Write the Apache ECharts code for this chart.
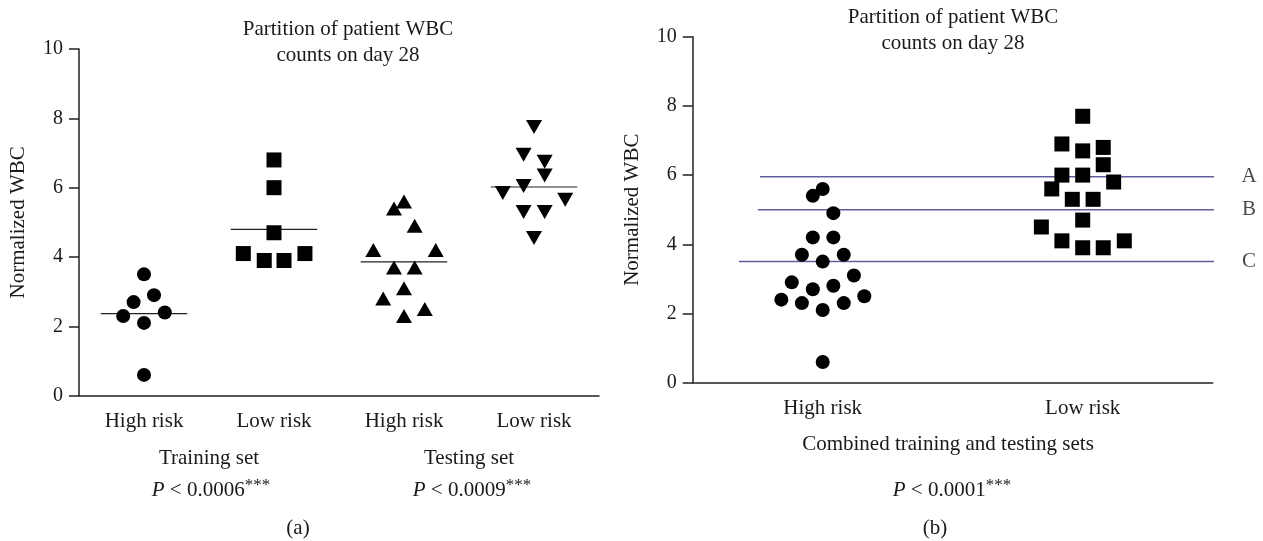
<!DOCTYPE html>
<html>
<head>
<meta charset="utf-8">
<title>Partition of patient WBC counts on day 28</title>
<script src="https://cdn.jsdelivr.net/npm/echarts@6/dist/echarts.min.js"></script>
<style>
  html, body { margin: 0; padding: 0; background: #fff; }
  #chart { width: 1263px; height: 541px; }
</style>
</head>
<body>
<div id="chart"></div>
<script>
// panel (a): training / testing sets
var leftCategories = ['High risk', 'Low risk', 'High risk', 'Low risk'];
var trainHighY  = [3.5, 2.9, 2.7, 2.3, 2.4, 2.1, 0.6];
var trainHighDx = [0, 0.077, -0.08, -0.16, 0.16, 0, 0];
var trainLowY   = [6.8, 6.0, 4.7, 4.1, 3.9, 3.9, 4.1];
var trainLowDx  = [0, 0, 0, -0.236, -0.075, 0.077, 0.238];
var testHighY   = [5.6, 5.4, 4.9, 4.2, 4.2, 3.7, 3.7, 3.1, 2.8, 2.5, 2.3];
var testHighDx  = [0, -0.077, 0.082, -0.236, 0.244, -0.077, 0.082, 0, -0.16, 0.16, 0];
var testLowY    = [7.75, 6.95, 6.75, 6.35, 6.05, 5.85, 5.65, 5.3, 5.3, 4.55];
var testLowDx   = [0, -0.08, 0.082, 0.082, -0.08, -0.24, 0.24, -0.08, 0.082, 0];
var leftMeans   = [2.37, 4.8, 3.86, 6.02];

// panel (b): combined sets
var rightCategories = ['High risk', 'Low risk'];
var combHighY  = [5.6, 5.4, 4.9, 4.2, 4.2, 3.7, 3.7, 3.5, 3.1, 2.9, 2.7, 2.8, 2.5, 2.4, 2.3, 2.3, 2.1, 0.6];
var combHighDx = [0, -0.038, 0.041, -0.038, 0.041, -0.08, 0.081, 0, 0.12, -0.119, -0.038, 0.041, 0.16, -0.159, -0.08, 0.081, 0, 0];
var combLowY   = [7.7, 6.9, 6.7, 6.8, 6.3, 6.0, 6.0, 5.8, 5.6, 5.3, 5.3, 4.7, 4.5, 4.1, 4.1, 3.9, 3.9];
var combLowDx  = [0, -0.08, 0, 0.079, 0.079, -0.08, 0, 0.119, -0.119, -0.04, 0.04, 0, -0.159, -0.08, 0.16, 0, 0.079];
var cutNames   = ['A', 'B', 'C'];
var cutValues  = [5.95, 5.0, 3.5];
var cutFrom    = [-0.241, -0.249, -0.322];
var cutTo      = [1.554, 1.578, 1.506];

var FONT = 'Liberation Serif';
var INK = '#1a1a1a';

function pts(center, ys, dxs) {
  return ys.map(function (y, i) { return [center + dxs[i], y]; });
}

function dots(xIdx, yIdx, data, symbol, size, rotate) {
  return {
    type: 'scatter', xAxisIndex: xIdx, yAxisIndex: yIdx,
    symbol: symbol, symbolSize: size, symbolRotate: rotate || 0,
    itemStyle: { color: '#000', opacity: 1 }, data: data, silent: true, z: 3
  };
}

var series = [
  dots(1, 0, pts(0, trainHighY, trainHighDx), 'circle', 14),
  dots(1, 0, pts(1, trainLowY, trainLowDx), 'rect', 15),
  dots(1, 0, pts(2, testHighY, testHighDx), 'triangle', [16, 14]),
  dots(1, 0, pts(3, testLowY, testLowDx), 'triangle', [16, 14], 180),
  dots(3, 1, pts(0, combHighY, combHighDx), 'circle', 14),
  dots(3, 1, pts(1, combLowY, combLowDx), 'rect', 15)
];

leftMeans.forEach(function (m, i) {
  series.push({
    type: 'line', xAxisIndex: 1, yAxisIndex: 0, symbol: 'none', silent: true,
    lineStyle: { color: '#222', width: 1.2 },
    data: [[i - 0.333, m], [i + 0.333, m]], z: 2
  });
});

cutValues.forEach(function (v, i) {
  series.push({
    type: 'line', xAxisIndex: 3, yAxisIndex: 1, symbol: 'none', silent: true, clip: false,
    lineStyle: { color: '#5f5f9c', width: 1.5 },
    data: [[cutFrom[i], v], [cutTo[i], v]], z: 2
  });
});

series.push({
  type: 'scatter', xAxisIndex: 3, yAxisIndex: 1, symbolSize: 1, clip: false, silent: true,
  itemStyle: { color: 'rgba(0,0,0,0)' },
  label: { show: true, position: 'inside', formatter: function (p) { return p.data[2]; },
           fontFamily: FONT, fontSize: 21, color: INK },
  data: cutValues.map(function (v, i) { return [1.64, v, cutNames[i]]; })
});

function yAxis(gridIndex) {
  return {
    type: 'value', gridIndex: gridIndex, min: 0, max: 10, interval: 2,
    name: 'Normalized WBC', nameLocation: 'middle', nameGap: 50,
    nameTextStyle: { fontFamily: FONT, fontSize: 21, color: INK },
    axisLine: { show: true, onZero: false, lineStyle: { color: '#222', width: 1.5 } },
    axisTick: { show: true, length: 10, lineStyle: { color: '#222', width: 1.5 } },
    axisLabel: { fontFamily: FONT, fontSize: 20, color: INK, margin: 16 },
    splitLine: { show: false }
  };
}

function catAxis(gridIndex, cats) {
  return {
    type: 'category', gridIndex: gridIndex, data: cats,
    axisLine: { onZero: false, lineStyle: { color: '#222', width: 1.5 } },
    axisTick: { alignWithLabel: true, length: 10, lineStyle: { color: '#222', width: 1.5 } },
    axisLabel: { fontFamily: FONT, fontSize: 21, color: INK, margin: 15 }
  };
}

function hiddenX(gridIndex, max) {
  return { type: 'value', gridIndex: gridIndex, min: -0.5, max: max, show: false, splitLine: { show: false } };
}

function txt(text, x, y) {
  return {
    text: text, left: x, top: y, textAlign: 'center', padding: 0,
    textStyle: {
      fontFamily: FONT, fontSize: 21, fontWeight: 'normal', color: INK, lineHeight: 26,
      rich: {
        i: { fontFamily: FONT, fontSize: 21, fontStyle: 'italic', color: INK },
        s: { fontFamily: FONT, fontSize: 17, color: INK, verticalAlign: 'top', padding: [0, 0, 4, 0] }
      }
    }
  };
}

var chart = echarts.init(document.getElementById('chart'), null, { renderer: 'canvas' });
chart.setOption({
  animation: false,
  backgroundColor: '#fff',
  title: [
    txt('Partition of patient WBC\ncounts on day 28', 348, 16),
    txt('Partition of patient WBC\ncounts on day 28', 953, 4),
    txt('Training set', 209, 445),
    txt('Testing set', 469, 445),
    txt('{i|P} < 0.0006{s|***}', 211, 477),
    txt('{i|P} < 0.0009{s|***}', 472, 477),
    txt('(a)', 298, 515),
    txt('Combined training and testing sets', 948, 431),
    txt('{i|P} < 0.0001{s|***}', 952, 477),
    txt('(b)', 935, 515)
  ],
  grid: [
    { left: 79, top: 49, width: 520, height: 346.7 },
    { left: 692.7, top: 36.7, width: 520, height: 346 }
  ],
  xAxis: [
    catAxis(0, leftCategories),
    hiddenX(0, 3.5),
    catAxis(1, rightCategories),
    hiddenX(1, 1.5)
  ],
  yAxis: [yAxis(0), yAxis(1)],
  series: series
});
</script>
</body>
</html>
